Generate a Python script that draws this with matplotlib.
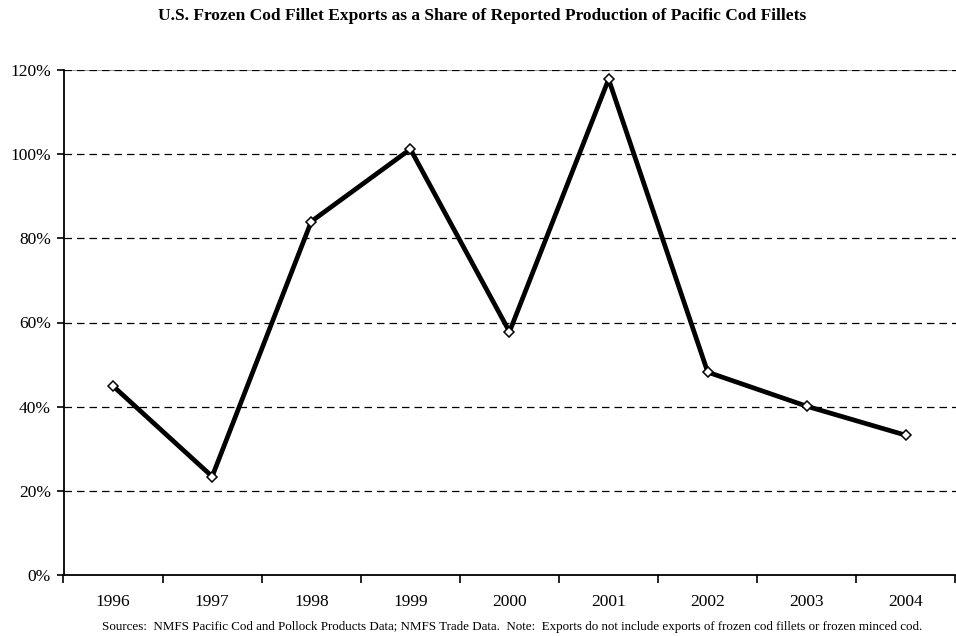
import matplotlib.pyplot as plt
import numpy as np

years = ['1996', '1997', '1998', '1999', '2000', '2001', '2002', '2003', '2004']
export_share = [44.9, 23.4, 84.0, 101.2, 57.8, 117.8, 48.2, 40.1, 33.2]

plt.rcParams['font.family'] = ['Liberation Serif', 'DejaVu Serif']

fig = plt.figure(figsize=(9.56, 6.36), dpi=100)
ax = fig.add_axes([63.5 / 956, 61 / 636, (955.5 - 63.5) / 956, (575 - 70) / 636])

x = np.arange(len(years))
ax.plot(x, export_share, color='black', lw=3.4, marker='D', markersize=5.5,
        markerfacecolor='white', markeredgecolor='black', markeredgewidth=1.1,
        zorder=3, clip_on=False)

ax.set_xlim(-0.5, len(years) - 0.5)
ax.set_ylim(0, 120)

# gridlines
for v in range(20, 121, 20):
    ax.axhline(v, color='black', lw=0.9, dashes=(6, 4), zorder=1)
ax.axhline(120, color='#888888', lw=1.2, zorder=0.5)

ax.set_yticks(range(0, 121, 20))
ax.set_yticklabels([f'{v}%' for v in range(0, 121, 20)], fontsize=12.5)
ax.set_xticks(np.arange(-0.5, len(years), 1.0))
ax.set_xticklabels([])
ax.set_xticks(x, minor=True)
ax.set_xticklabels(years, minor=True, fontsize=12.5)
ax.tick_params(axis='x', which='major', direction='out', length=6, width=1.2)
ax.tick_params(axis='x', which='minor', length=0, pad=14)
ax.tick_params(axis='y', direction='out', length=5, width=1.2, pad=4)

for side in ['top', 'right']:
    ax.spines[side].set_visible(False)
for side in ['left', 'bottom']:
    ax.spines[side].set_linewidth(1.3)

fig.text(482 / 956, 1 - 16 / 636,
         'U.S. Frozen Cod Fillet Exports as a Share of Reported Production of Pacific Cod Fillets',
         ha='center', va='center', fontsize=12.5, fontweight='bold')
fig.text(512 / 956, 1 - 627 / 636,
         'Sources:  NMFS Pacific Cod and Pollock Products Data; NMFS Trade Data.  Note:  Exports do not include exports of frozen cod fillets or frozen minced cod.',
         ha='center', va='center', fontsize=9.4)

fig.savefig('out.png', dpi=100)
